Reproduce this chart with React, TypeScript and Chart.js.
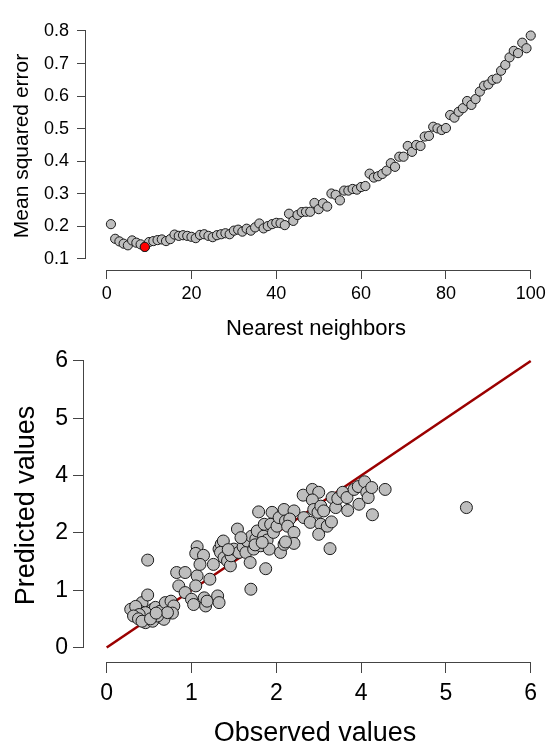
import React, { useEffect, useRef } from 'react';
import { Chart, registerables } from 'chart.js';

Chart.register(...registerables);

const FONT = "'Liberation Sans', Arial, Helvetica, sans-serif";

// ---------- Top panel: MSE vs number of neighbours ----------
const neighbors: number[] = Array.from({ length: 100 }, (_, i) => i + 1);
const mse: number[] = [
  0.207, 0.162, 0.154, 0.147, 0.142, 0.157, 0.150, 0.145, 0.137, 0.152,
  0.155, 0.158, 0.160, 0.155, 0.161, 0.175, 0.171, 0.173, 0.171, 0.168,
  0.164, 0.174, 0.176, 0.171, 0.167, 0.173, 0.176, 0.179, 0.176, 0.187,
  0.190, 0.184, 0.193, 0.187, 0.197, 0.209, 0.194, 0.201, 0.207, 0.211,
  0.210, 0.204, 0.239, 0.217, 0.235, 0.244, 0.245, 0.245, 0.272, 0.253,
  0.271, 0.261, 0.301, 0.297, 0.280, 0.310, 0.310, 0.315, 0.313, 0.321,
  0.324, 0.362, 0.350, 0.354, 0.361, 0.371, 0.394, 0.383, 0.414, 0.414,
  0.447, 0.429, 0.450, 0.447, 0.476, 0.478, 0.506, 0.501, 0.496, 0.502,
  0.542, 0.534, 0.552, 0.563, 0.585, 0.573, 0.591, 0.614, 0.632, 0.636,
  0.650, 0.654, 0.678, 0.696, 0.719, 0.739, 0.732, 0.764, 0.747, 0.786,
];
const BEST_K = 9;
const kTicks: number[] = [0, 20, 40, 60, 80, 100];
const mseTicks: number[] = [0.1, 0.2, 0.3, 0.4, 0.5, 0.6, 0.7, 0.8];

// ---------- Bottom panel: observed vs predicted ----------
const observed: number[] = [
  0.34, 0.50, 0.58, 0.48, 0.52, 0.60, 0.65, 0.69, 0.76, 0.83,
  0.91, 0.95, 0.93, 0.83, 0.76, 0.68, 0.60, 0.55, 0.43, 0.41,
  0.55, 0.65, 0.81, 0.46, 0.72, 0.86, 0.58, 0.38, 0.45, 0.50,
  0.62, 0.70, 0.99, 1.11, 1.02, 1.11, 1.20, 1.23, 1.28, 1.26,
  1.28, 1.26, 1.37, 1.32, 1.38, 1.40, 1.42, 1.46, 1.51, 1.57,
  1.59, 1.59, 1.62, 1.65, 1.61, 1.66, 1.71, 1.75, 1.76, 1.80,
  1.85, 1.87, 1.93, 1.97, 1.99, 2.03, 2.04, 2.05, 2.08, 2.11,
  2.13, 2.15, 2.18, 2.22, 2.23, 2.25, 2.27, 2.30, 2.32, 2.34,
  2.36, 2.41, 2.44, 2.46, 2.51, 2.53, 2.65, 2.59, 2.56, 2.65,
  2.51, 2.65, 2.53, 2.78, 2.91, 3.00, 2.91, 2.79, 2.88, 2.93,
  2.99, 3.03, 3.07, 3.03, 3.00, 3.12, 3.18, 3.16, 3.19, 3.24,
  3.27, 3.34, 3.40, 3.41, 3.50, 3.56, 3.57, 3.65, 3.68, 3.70,
  3.75, 3.76, 3.94, 5.09, 2.10, 1.90, 2.20, 1.72,
];
const predicted: number[] = [
  0.80, 0.94, 1.10, 0.75, 0.63, 0.66, 0.80, 0.84, 0.76, 0.94,
  0.97, 0.87, 0.72, 0.68, 0.63, 0.66, 0.57, 0.73, 0.73, 0.86,
  0.52, 0.55, 0.59, 0.69, 0.66, 0.73, 1.83, 0.66, 0.60, 0.55,
  0.60, 0.72, 1.57, 1.57, 1.29, 1.15, 1.01, 0.90, 1.50, 1.29,
  2.11, 1.97, 1.93, 1.74, 1.04, 0.87, 0.97, 1.43, 1.74, 1.08,
  0.94, 2.06, 2.16, 2.23, 1.99, 1.88, 1.81, 1.71, 1.92, 2.06,
  2.48, 1.99, 2.11, 1.99, 2.23, 1.78, 1.22, 2.33, 2.06, 2.27,
  2.44, 2.84, 2.13, 2.33, 2.58, 1.65, 2.25, 2.06, 2.58, 2.83,
  2.41, 2.54, 2.72, 1.99, 2.89, 2.65, 2.86, 2.69, 2.54, 2.41,
  2.16, 2.18, 2.21, 3.19, 3.31, 3.25, 3.09, 2.72, 2.62, 2.89,
  2.83, 2.96, 2.86, 2.58, 2.37, 2.54, 2.63, 2.07, 3.14, 2.93,
  3.12, 3.25, 3.14, 2.87, 3.31, 3.37, 3.00, 3.47, 3.25, 3.14,
  3.35, 2.78, 3.31, 2.93, 2.15, 2.30, 2.20, 2.05,
];
const identityLine: number[] = [0, 6];
const opTicks: number[] = [0, 1.2, 2.4, 3.6, 4.8, 6];
const opTickLabels: string[] = ['0', '1', '2', '4', '5', '6'];

// Draws R-style axis lines spanning first..last tick
const rAxes = {
  id: 'rAxes',
  beforeDatasetsDraw(chart: any) {
    const { ctx, chartArea, scales } = chart;
    const x = scales.x;
    const y = scales.y;
    ctx.save();
    ctx.strokeStyle = '#444';
    ctx.lineWidth = 1;
    ctx.beginPath();
    const yb = Math.round(chartArea.bottom) + 0.5;
    ctx.moveTo(x.getPixelForValue(x.ticks[0].value), yb);
    ctx.lineTo(x.getPixelForValue(x.ticks[x.ticks.length - 1].value), yb);
    const xl = Math.round(chartArea.left) - 0.5;
    ctx.moveTo(xl, y.getPixelForValue(y.ticks[0].value));
    ctx.lineTo(xl, y.getPixelForValue(y.ticks[y.ticks.length - 1].value));
    ctx.stroke();
    ctx.restore();
  },
};

function axis(o: any) {
  return {
    type: 'linear',
    position: o.position,
    min: o.min,
    max: o.max,
    bounds: 'data',
    afterBuildTicks: (s: any) => {
      s.ticks = o.tickValues.map((v: number) => ({ value: v }));
    },
    afterFit: (s: any) => {
      if (o.position === 'bottom') s.height = o.size;
      else s.width = o.size;
      s.paddingLeft = 0;
      s.paddingRight = 0;
      s.paddingTop = 0;
      s.paddingBottom = 0;
    },
    grid: {
      drawOnChartArea: false,
      drawTicks: true,
      tickLength: o.tickLength,
      color: '#444',
      lineWidth: 1,
    },
    border: { display: false },
    ticks: {
      font: { family: FONT, size: o.tickSize },
      color: '#000',
      padding: o.tickPadding,
      maxRotation: 0,
      minRotation: 0,
      autoSkip: false,
      callback: (_v: any, i: number) => o.tickLabels[i],
    },
    title: {
      display: true,
      text: o.title,
      color: '#000',
      font: { family: FONT, size: o.titleSize, lineHeight: 1 },
      padding: o.titlePadding,
    },
  };
}

function App() {
  const topRef = useRef<HTMLCanvasElement>(null);
  const botRef = useRef<HTMLCanvasElement>(null);

  useEffect(() => {
    const top = new Chart(topRef.current as HTMLCanvasElement, {
      type: 'scatter',
      data: {
        datasets: [
          {
            data: [{ x: BEST_K, y: mse[BEST_K - 1] }],
            backgroundColor: '#ff0000',
            borderColor: '#1a1a1a',
            borderWidth: 1,
            pointRadius: 4.6,
          },
          {
            data: neighbors.map((k, i) => ({ x: k, y: mse[i] })),
            backgroundColor: '#bebebe',
            borderColor: '#1a1a1a',
            borderWidth: 1,
            pointRadius: 4.6,
          },
        ],
      },
      options: {
        animation: false,
        responsive: false,
        events: [],
        layout: { autoPadding: false, padding: { top: 22, right: 1, left: 0, bottom: 0 } },
        plugins: { legend: { display: false }, tooltip: { enabled: false } },
        scales: {
          x: axis({
            position: 'bottom', min: -4.88, max: 103.6, size: 75,
            tickValues: kTicks, tickLabels: kTicks.map(String),
            tickLength: 9, tickSize: 18, tickPadding: 4,
            title: 'Nearest neighbors', titleSize: 22,
            titlePadding: { top: 0, bottom: 5 },
          }),
          y: axis({
            position: 'left', min: 0.0662, max: 0.8276, size: 86,
            tickValues: mseTicks, tickLabels: mseTicks.map((v) => v.toFixed(1)),
            tickLength: 9, tickSize: 18, tickPadding: 8,
            title: 'Mean squared error', titleSize: 21,
            titlePadding: { top: 12, bottom: 0 },
          }),
        },
      } as any,
      plugins: [rAxes],
    });

    const bot = new Chart(botRef.current as HTMLCanvasElement, {
      type: 'scatter',
      data: {
        datasets: [
          {
            data: observed.map((o, i) => ({ x: o, y: predicted[i] })),
            backgroundColor: '#bebebe',
            borderColor: '#1a1a1a',
            borderWidth: 1,
            pointRadius: 6,
          },
          {
            data: identityLine.map((v) => ({ x: v, y: v })),
            showLine: true,
            borderColor: '#9b0000',
            borderWidth: 2.6,
            pointRadius: 0,
          },
        ],
      },
      options: {
        animation: false,
        responsive: false,
        events: [],
        layout: { autoPadding: false, padding: { top: 4, right: 1, left: 0, bottom: 0 } },
        plugins: { legend: { display: false }, tooltip: { enabled: false } },
        scales: {
          x: axis({
            position: 'bottom', min: -0.321, max: 6.216, size: 83,
            tickValues: opTicks, tickLabels: opTickLabels,
            tickLength: 11, tickSize: 23, tickPadding: 7,
            title: 'Observed values', titleSize: 27,
            titlePadding: { top: 0, bottom: -2 },
          }),
          y: axis({
            position: 'left', min: -0.304, max: 6.251, size: 84,
            tickValues: opTicks, tickLabels: opTickLabels,
            tickLength: 11, tickSize: 23, tickPadding: 5,
            title: 'Predicted values', titleSize: 27,
            titlePadding: { top: 13, bottom: 0 },
          }),
        },
      } as any,
      plugins: [rAxes],
    });

    return () => {
      top.destroy();
      bot.destroy();
    };
  }, []);

  return (
    <div style={{ position: 'absolute', left: 0, top: 0, width: 547, height: 745, background: '#fff', overflow: 'hidden' }}>
      <canvas ref={topRef} width={547} height={345} style={{ display: 'block', width: 547, height: 345 }} />
      <canvas ref={botRef} width={547} height={400} style={{ display: 'block', width: 547, height: 400 }} />
    </div>
  );
}

export default App;
